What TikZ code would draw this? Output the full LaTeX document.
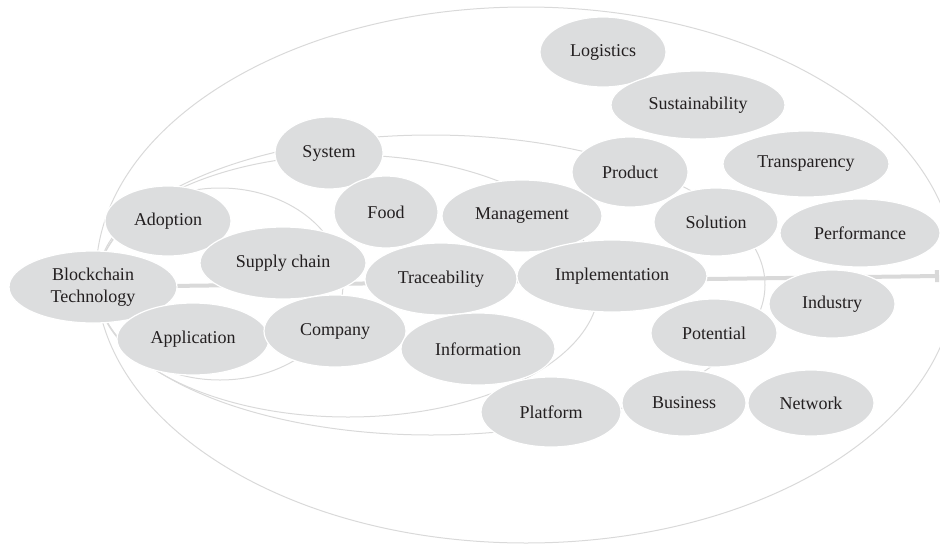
\documentclass[tikz,border=0pt]{standalone}
\usepackage{fontspec}
\setmainfont{Liberation Serif}
\usepackage{tikz}
\usetikzlibrary{shapes.geometric}
\usetikzlibrary{arrows.meta}
\usetikzlibrary{backgrounds}
\usepackage{xcolor}
\definecolor{termfill}{HTML}{DCDDDE}
\definecolor{termtext}{HTML}{231F20}
\definecolor{ringgray}{HTML}{D9D9D9}

\begin{document}
\begin{tikzpicture}[x=1pt, y=-1pt,
    term/.style={ellipse, fill=termfill, draw=white, line width=1.2pt, inner sep=0pt,
        text=termtext, align=center, font=\fontsize{18}{22}\selectfont},
    termsize/.style 2 args={minimum width=#1pt, minimum height=#2pt},
    ring/.style={draw=ringgray, line width=1pt},
    axis/.style={draw=ringgray, line width=4pt, -{Bar[width=12pt, length=2pt]}}]
    \useasboundingbox (0,0) rectangle (940,544);
    \node[term, termsize={126}{70}] (logistics) at (603,52) {Logistics};
    \node[term, termsize={174}{68}] (sustainability) at (698,105) {Sustainability};
    \node[term, termsize={108}{72}] (system) at (329,153) {System};
    \node[term, termsize={116}{70}] (product) at (630,172) {Product};
    \node[term, termsize={166}{66}] (transparency) at (806,164) {Transparency};
    \node[term, termsize={126}{70}] (adoption) at (168,221) {Adoption};
    \node[term, termsize={104}{72}] (food) at (386,212) {Food};
    \node[term, termsize={160}{72}] (management) at (522,216) {Management};
    \node[term, termsize={124}{68}] (solution) at (716,222) {Solution};
    \node[term, termsize={160}{68}] (performance) at (860,233) {Performance};
    \node[term, termsize={168}{72}] (blockchain) at (93,287) {Blockchain\\Technology};
    \node[term, termsize={166}{72}] (supply) at (283,263) {Supply chain};
    \node[term, termsize={152}{72}] (traceability) at (441,279) {Traceability};
    \node[term, termsize={190}{72}] (implementation) at (612,276) {Implementation};
    \node[term, termsize={126}{68}] (industry) at (832,304) {Industry};
    \node[term, termsize={152}{72}] (application) at (193,339) {Application};
    \node[term, termsize={142}{72}] (company) at (335,331) {Company};
    \node[term, termsize={154}{72}] (information) at (478,349) {Information};
    \node[term, termsize={126}{68}] (potential) at (714,333) {Potential};
    \node[term, termsize={140}{70}] (platform) at (551,412) {Platform};
    \node[term, termsize={124}{66}] (business) at (684,403) {Business};
    \node[term, termsize={126}{66}] (network) at (811,403) {Network};
    \coordinate (axisend) at (939,276);
    % rings and axis behind the terms
    \begin{scope}[on background layer]
        \draw[ring] (526,275) ellipse [x radius=430, y radius=268];
        \draw[ring] (431,285) ellipse [x radius=334, y radius=150];
        \draw[ring] (348,286) ellipse [x radius=251, y radius=131];
        \draw[ring] (220,284) ellipse [x radius=123, y radius=96];
        \draw[axis] (blockchain.center) -- (axisend);
    \end{scope}
\end{tikzpicture}
\end{document}
